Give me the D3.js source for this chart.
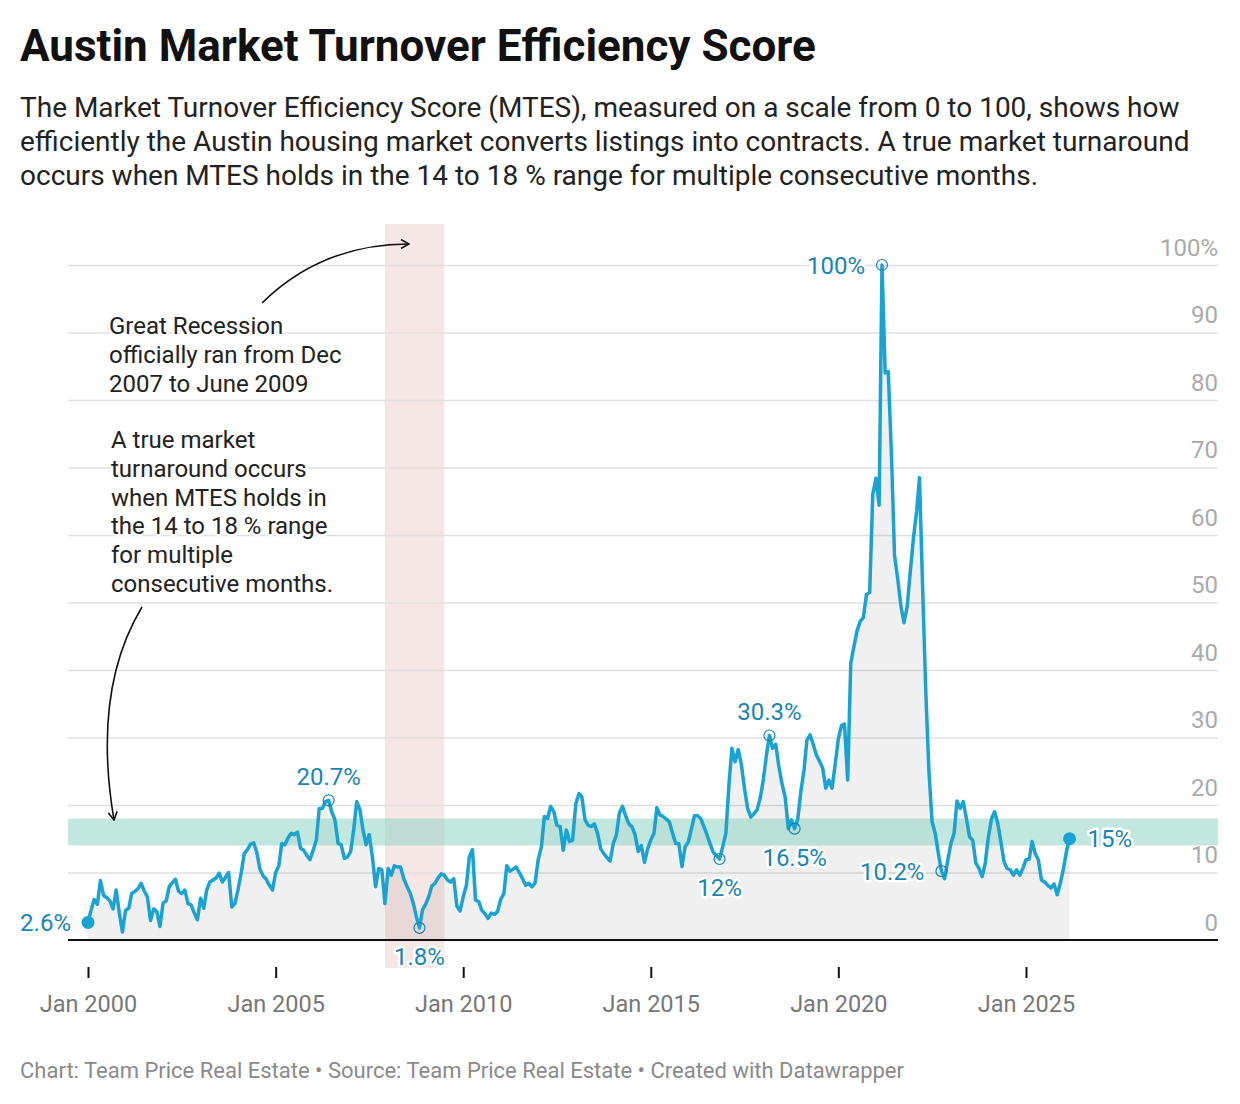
<!DOCTYPE html>
<html>
<head>
<meta charset="utf-8">
<script src="https://cdn.jsdelivr.net/npm/d3@7"></script>
<style>
  body { margin: 0; background: #fff; }
  svg { display: block; font-family: Roboto, "Noto Sans", sans-serif; }
</style>
</head>
<body>
<svg id="chart" width="1240" height="1104"></svg>
<script>
// Monthly MTES values, Jan 2000 onward (one row per year).
var startYear = 2000;
var mtes = [
  2.6, 4.5, 6.0, 5.3, 8.8, 6.6, 6.3, 5.8, 4.6, 7.4, 4.0, 1.2,        // 2000
  4.4, 4.7, 6.9, 7.2, 7.6, 8.4, 7.3, 6.4, 2.9, 4.6, 4.2, 2.0,        // 2001
  5.5, 5.8, 7.9, 8.5, 9.0, 7.2, 6.9, 7.4, 5.4, 5.2, 4.0, 3.0,        // 2002
  6.2, 4.7, 7.4, 8.6, 8.9, 9.2, 9.9, 8.6, 9.3, 10.0, 4.9, 5.4,       // 2003
  7.5, 10.0, 12.8, 13.4, 14.2, 14.4, 13.0, 10.5, 9.5, 9.0, 8.1, 7.4, // 2004
  10.0, 11.0, 14.3, 14.1, 15.1, 15.8, 15.6, 16.0, 13.6, 13.3, 12.5, 11.9, // 2005
  13.3, 14.8, 19.5, 19.5, 20.5, 20.7, 19.0, 17.8, 14.3, 14.1, 12.1, 12.3, // 2006
  13.1, 16.5, 20.5, 19.3, 16.3, 14.1, 15.6, 12.3, 7.9, 10.6, 10.4, 5.4,   // 2007
  10.6, 9.6, 11.0, 10.8, 10.8, 9.1, 8.0, 7.0, 5.5, 3.5, 1.8, 4.5,         // 2008
  5.3, 6.5, 8.0, 8.4, 9.2, 9.8, 9.6, 8.9, 8.6, 9.1, 5.0, 4.3,             // 2009
  6.4, 8.1, 12.3, 13.4, 5.9, 5.7, 4.4, 3.9, 3.2, 4.0, 3.8, 4.2,           // 2010
  6.0, 6.9, 11.0, 10.2, 10.5, 10.8, 10.0, 9.1, 8.1, 8.4, 7.9, 8.4,        // 2011
  11.9, 13.8, 18.3, 18.0, 19.8, 19.0, 17.0, 16.8, 13.3, 16.3, 14.6, 14.8, // 2012
  20.2, 21.7, 21.2, 17.8, 17.0, 16.8, 17.2, 15.8, 13.5, 12.8, 12.2, 11.7, // 2013
  14.3, 15.6, 18.8, 19.8, 18.4, 17.2, 16.8, 15.6, 13.1, 14.0, 11.5, 13.5, // 2014
  14.8, 15.8, 19.6, 18.5, 18.3, 17.9, 17.5, 15.8, 14.3, 14.3, 10.9, 13.8, // 2015
  14.5, 16.5, 18.4, 18.4, 18.0, 16.8, 15.6, 14.2, 13.0, 12.5, 12.0, 13.8, // 2016
  15.8, 23.2, 28.4, 26.4, 28.2, 26.0, 22.5, 19.5, 18.2, 18.7, 19.3, 21.0, // 2017
  23.8, 27.5, 30.3, 28.4, 29.0, 25.7, 23.2, 21.2, 16.5, 17.8, 16.5, 17.8, // 2018
  22.0, 25.2, 29.6, 30.4, 29.0, 27.4, 26.5, 25.5, 22.5, 23.7, 22.5, 26.0, // 2019
  29.8, 31.8, 32.0, 23.7, 41.0, 43.5, 45.8, 47.2, 47.8, 51.2, 51.5, 66.0, // 2020
  68.4, 64.4, 100, 84.0, 84.2, 72.0, 57.0, 53.5, 49.5, 47.0, 49.4, 54.5,  // 2021
  59.5, 63.5, 68.5, 52.0, 37.0, 25.0, 17.6, 15.8, 12.8, 10.2, 9.1, 11.8,  // 2022
  14.3, 15.8, 20.6, 19.5, 20.5, 18.0, 15.3, 14.8, 11.4, 10.6, 9.4, 11.4,  // 2023
  15.3, 18.0, 19.0, 17.3, 14.6, 11.6, 10.6, 10.4, 9.6, 10.4, 9.6, 10.6,   // 2024
  11.9, 12.0, 14.6, 12.8, 11.9, 8.9, 8.6, 8.1, 7.7, 8.3, 6.7, 8.4,        // 2025
  10.6, 13.3, 15.0                                                        // 2026
];

var yTicks = [0, 10, 20, 30, 40, 50, 60, 70, 80, 90, 100];
var xTickYears = [2000, 2005, 2010, 2015, 2020, 2025];
var turnaroundBand = [14, 18];
var recession = ["2007-12-01", "2009-07-01"];

// Labelled points: month index into mtes, and the label text.
var calloutIndex = [0, 77, 106, 202, 218, 226, 254, 273, 314];
var calloutText = ["2.6%", "20.7%", "1.8%", "12%", "30.3%", "16.5%", "100%", "10.2%", "15%"];
var calloutSide = ["left", "above", "below", "below", "above", "below", "left", "left", "right"];

var titleText = "Austin Market Turnover Efficiency Score";
var subtitleLines = [
  "The Market Turnover Efficiency Score (MTES), measured on a scale from 0 to 100, shows how",
  "efficiently the Austin housing market converts listings into contracts. A true market turnaround",
  "occurs when MTES holds in the 14 to 18 % range for multiple consecutive months."
];
var recessionNote = ["Great Recession", "officially ran from Dec", "2007 to June 2009"];
var bandNote = ["A true market", "turnaround occurs", "when MTES holds in", "the 14 to 18 % range", "for multiple", "consecutive months."];
var footerText = "Chart: Team Price Real Estate \u2022 Source: Team Price Real Estate \u2022 Created with Datawrapper";

(function () {
  "use strict";

  var svg = d3.select("#chart");
  var left = 68, right = 1218;
  var lineColor = "#1aa2d0";
  var labelColor = "#1a84b1";

  var data = mtes.map(function (v, i) {
    return { date: new Date(startYear, i, 1), value: v };
  });

  var x = d3.scaleTime()
    .domain([new Date(2000, 0, 1), new Date(2025, 0, 1)])
    .range([88, 1026]);
  var y = d3.scaleLinear().domain([0, 100]).range([940, 265]);

  // Title block
  svg.append("text")
    .attr("x", 20).attr("y", 61)
    .attr("font-size", 44).attr("font-weight", 700).attr("fill", "#111")
    .text(titleText);

  svg.append("g").selectAll("text")
    .data(subtitleLines)
    .join("text")
    .attr("x", 20)
    .attr("y", function (d, i) { return 117 + i * 34; })
    .attr("font-size", 28).attr("fill", "#222")
    .text(function (d) { return d; });

  // Recession shading
  svg.append("rect")
    .attr("x", x(new Date(recession[0])))
    .attr("width", x(new Date(recession[1])) - x(new Date(recession[0])))
    .attr("y", 224).attr("height", 744)
    .attr("fill", "#f7e6e6");

  // Gridlines + right-hand labels
  var yAxis = svg.append("g")
    .attr("transform", "translate(" + right + ",0)")
    .call(d3.axisLeft(y)
      .tickValues(yTicks)
      .tickSize(right - left)
      .tickFormat(function (d) { return d === 100 ? "100%" : d; }));
  yAxis.select(".domain").remove();
  yAxis.selectAll(".tick line").attr("stroke", "#e0e0e0").attr("stroke-width", 1.5);
  yAxis.selectAll(".tick text")
    .attr("x", 0).attr("dy", -10)
    .attr("text-anchor", "end")
    .attr("font-size", 24).attr("fill", "#aaa")
    .attr("font-family", "Roboto, sans-serif");

  // Area under the line
  svg.append("path")
    .datum(data)
    .attr("fill", "#000").attr("fill-opacity", 0.06)
    .attr("d", d3.area()
      .x(function (d) { return x(d.date); })
      .y0(y(0))
      .y1(function (d) { return y(d.value); }));

  // 14-18 % band
  svg.append("rect")
    .attr("x", left).attr("width", right - left)
    .attr("y", y(turnaroundBand[1]))
    .attr("height", y(turnaroundBand[0]) - y(turnaroundBand[1]))
    .attr("fill", "#8fd3c3").attr("fill-opacity", 0.55);

  // Baseline
  svg.append("line")
    .attr("x1", left).attr("x2", right)
    .attr("y1", y(0)).attr("y2", y(0))
    .attr("stroke", "#111").attr("stroke-width", 2);

  // Line
  svg.append("path")
    .datum(data)
    .attr("fill", "none")
    .attr("stroke", lineColor).attr("stroke-width", 3.5)
    .attr("stroke-linejoin", "round")
    .attr("d", d3.line()
      .x(function (d) { return x(d.date); })
      .y(function (d) { return y(d.value); }));

  // X axis
  var xAxis = svg.append("g")
    .attr("transform", "translate(0,967)")
    .call(d3.axisBottom(x)
      .tickValues(xTickYears.map(function (yr) { return new Date(yr, 0, 1); }))
      .tickSize(11).tickPadding(17)
      .tickFormat(d3.timeFormat("Jan %Y")));
  xAxis.select(".domain").remove();
  xAxis.selectAll(".tick line").attr("stroke", "#111").attr("stroke-width", 2);
  xAxis.selectAll(".tick text")
    .attr("font-size", 23.5).attr("fill", "#777")
    .attr("font-family", "Roboto, sans-serif");

  // Callouts
  var callouts = calloutIndex.map(function (idx, i) {
    return { d: data[idx], text: calloutText[i], side: calloutSide[i], end: idx === 0 || idx === data.length - 1 };
  });

  var cg = svg.append("g");
  cg.selectAll("circle")
    .data(callouts)
    .join("circle")
    .attr("cx", function (c) { return x(c.d.date); })
    .attr("cy", function (c) { return y(c.d.value); })
    .attr("r", function (c) { return c.end ? 6.5 : 5.5; })
    .attr("fill", function (c) { return c.end ? lineColor : "none"; })
    .attr("stroke", function (c) { return c.end ? "none" : labelColor; })
    .attr("stroke-width", 1.2);

  var offsets = {
    left: { dx: -17, dy: 8.5, anchor: "end" },
    right: { dx: 18, dy: 8.5, anchor: "start" },
    above: { dx: 0, dy: -15, anchor: "middle" },
    below: { dx: 0, dy: 37, anchor: "middle" }
  };

  cg.selectAll("text")
    .data(callouts)
    .join("text")
    .attr("x", function (c) { return x(c.d.date) + offsets[c.side].dx; })
    .attr("y", function (c) { return y(c.d.value) + offsets[c.side].dy; })
    .attr("text-anchor", function (c) { return offsets[c.side].anchor; })
    .attr("font-size", 24).attr("fill", labelColor)
    .attr("stroke", "#fff").attr("stroke-width", 5)
    .attr("stroke-linejoin", "round").attr("paint-order", "stroke")
    .text(function (c) { return c.text; });

  // Annotations
  function note(lines, x0, y0, step) {
    svg.append("g").selectAll("text")
      .data(lines)
      .join("text")
      .attr("x", x0)
      .attr("y", function (d, i) { return y0 + i * step; })
      .attr("font-size", 24).attr("fill", "#222")
      .attr("stroke", "#fff").attr("stroke-width", 5)
      .attr("stroke-linejoin", "round").attr("paint-order", "stroke")
      .text(function (d) { return d; });
  }
  note(recessionNote, 109, 334, 29);
  note(bandNote, 111, 448, 28.8);

  svg.append("defs").append("marker")
    .attr("id", "head")
    .attr("viewBox", "0 0 10 10")
    .attr("refX", 9).attr("refY", 5)
    .attr("markerWidth", 10).attr("markerHeight", 10)
    .attr("markerUnits", "userSpaceOnUse")
    .attr("orient", "auto")
    .append("path")
    .attr("d", "M1,0.5 L9,5 L1,9.5")
    .attr("fill", "none").attr("stroke", "#111").attr("stroke-width", 1.6);

  svg.append("path")
    .attr("d", "M262,303 Q322,244 409,244")
    .attr("fill", "none").attr("stroke", "#111").attr("stroke-width", 1.6)
    .attr("marker-end", "url(#head)");

  svg.append("path")
    .attr("d", "M142,607 Q92,690 114,820")
    .attr("fill", "none").attr("stroke", "#111").attr("stroke-width", 1.6)
    .attr("marker-end", "url(#head)");

  // Footer
  svg.append("text")
    .attr("x", 20).attr("y", 1078)
    .attr("font-size", 22).attr("fill", "#8a8a8a")
    .text(footerText);
})();
</script>
</body>
</html>
